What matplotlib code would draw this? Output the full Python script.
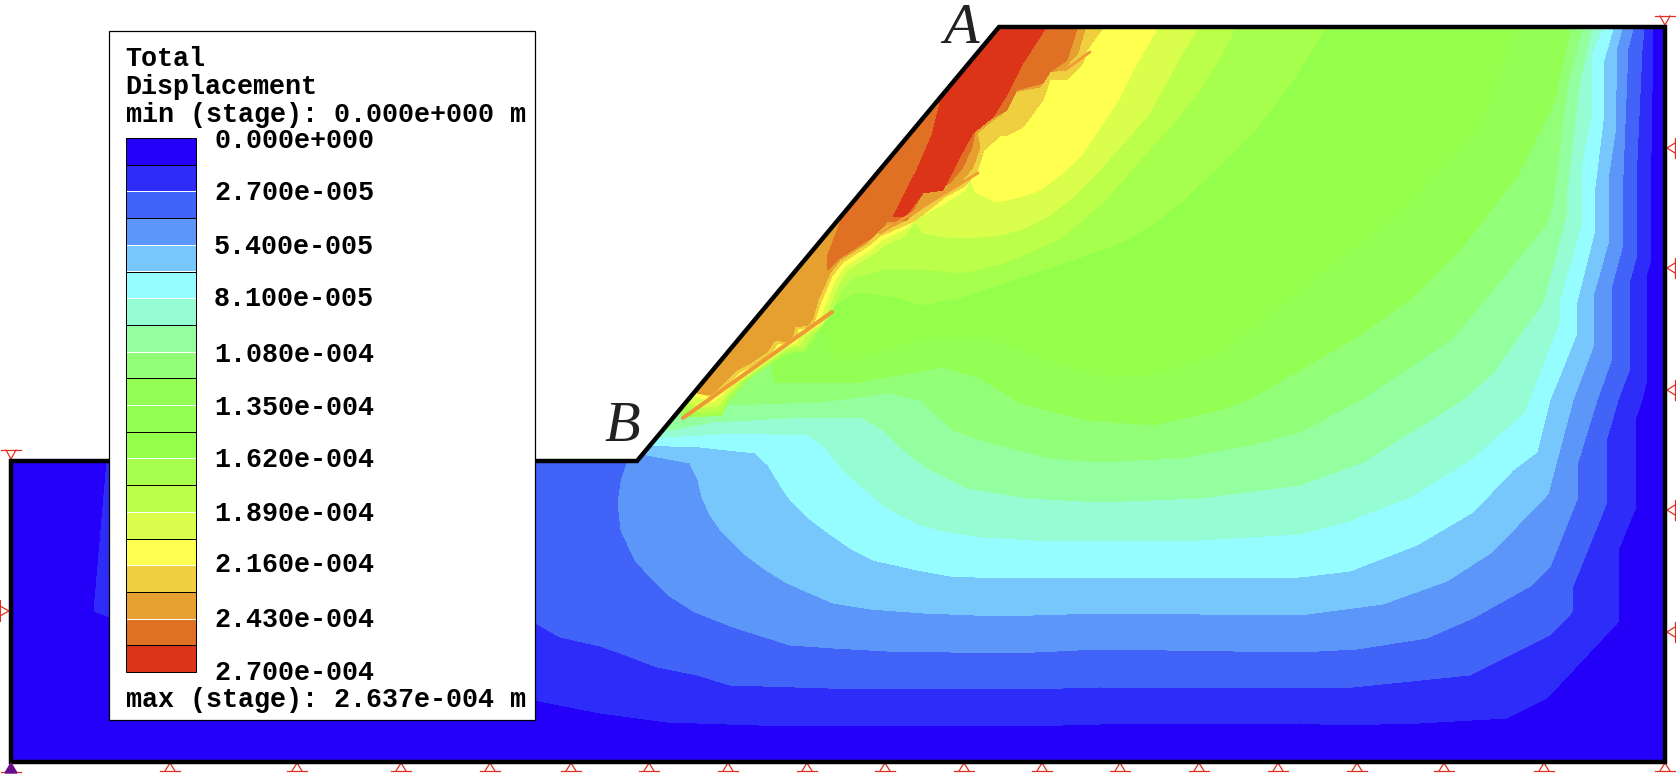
import matplotlib
matplotlib.use("Agg")
import matplotlib.pyplot as plt
from matplotlib.patches import Polygon, Rectangle

# model outline, picture pixels
outline_x = [11, 637, 999, 1665, 1665, 11]
outline_y = [461, 461, 27, 27, 762, 762]

# legend
legend_colors = ["#2400F8", "#2E2CF8", "#4263F8", "#5B96F8", "#78C7FC", "#95FDFF", "#95FCD4",
                 "#93FF9E", "#93FF78", "#93FF54", "#93FF50", "#93FF4C", "#A5FF4C", "#BBFF4A",
                 "#D9FF4C", "#FFFF50", "#EFCF40", "#E6A030", "#E07024", "#DC3418"]
legend_labels = ["0.000e+000", "2.700e-005", "5.400e-005", "8.100e-005", "1.080e-004", "1.350e-004",
                 "1.620e-004", "1.890e-004", "2.160e-004", "2.430e-004", "2.700e-004"]
legend_label_y = [141, 193, 247, 299, 355, 408, 460, 514, 565, 620, 673]
legend_head = ["Total", "Displacement", "min (stage): 0.000e+000 m"]
legend_head_y = [59, 87, 115]
legend_foot = "max (stage): 2.637e-004 m"

# contour edges, each one is where a colour starts
edge_02 = [(107, 450), (107, 461), (94, 611), (112, 618), (534, 700), (600, 713), (667, 722), (757, 725),
           (1027, 726), (1100, 724), (1300, 723), (1340, 725), (1420, 723), (1507, 718), (1547, 698),
           (1618, 622), (1619, 548), (1636, 507), (1636, 417), (1642, 400), (1647, 380), (1647, 273),
           (1650, 263), (1651, 153), (1653, 29), (1653, 20)]
edge_03 = [(300, 450), (300, 600), (534, 622), (560, 637), (600, 646), (620, 653), (657, 667), (697, 675),
           (730, 685), (860, 689), (1027, 689), (1100, 687), (1300, 688), (1353, 687), (1470, 675),
           (1550, 635), (1573, 611), (1573, 586), (1607, 502), (1607, 438), (1618, 400), (1630, 368),
           (1630, 280), (1637, 255), (1637, 160), (1642, 50), (1644, 29), (1644, 20)]
edge_04 = [(627, 450), (627, 463), (621, 482), (618, 503), (621, 530), (627, 543), (635, 560), (650, 577),
           (668, 595), (695, 612), (733, 627), (790, 645), (833, 648), (887, 651), (1013, 653), (1100, 649),
           (1300, 652), (1357, 649), (1427, 638), (1473, 618), (1532, 585), (1550, 567), (1578, 497),
           (1578, 462), (1597, 400), (1612, 358), (1612, 285), (1622, 248), (1623, 175), (1628, 48),
           (1633, 29), (1633, 20)]
edge_05 = [(635, 452), (647, 455), (690, 463), (698, 480), (702, 497), (710, 515), (722, 532), (743, 553),
           (763, 568), (787, 583), (833, 603), (870, 609), (923, 613), (1000, 616), (1100, 613), (1300, 615),
           (1383, 604), (1447, 581), (1492, 552), (1548, 494), (1573, 400), (1593, 347), (1594, 293),
           (1609, 240), (1609, 173), (1615, 133), (1617, 47), (1622, 29), (1622, 20)]
edge_06 = [(640, 445), (700, 447), (755, 453), (768, 465), (777, 480), (788, 497), (807, 517), (827, 532),
           (853, 550), (873, 560), (917, 570), (950, 576), (1000, 578), (1100, 578), (1300, 577), (1350, 571),
           (1417, 545), (1473, 512), (1513, 470), (1537, 452), (1550, 400), (1577, 333), (1577, 302),
           (1595, 230), (1595, 187), (1604, 113), (1604, 60), (1613, 29), (1613, 20)]
edge_07 = [(650, 438), (733, 433), (807, 435), (823, 445), (843, 470), (863, 488), (887, 508), (920, 525),
           (947, 532), (983, 537), (1033, 540), (1100, 541), (1200, 540), (1300, 534), (1343, 523),
           (1410, 497), (1470, 460), (1525, 412), (1529, 400), (1560, 320), (1559, 303), (1582, 222),
           (1582, 163), (1592, 110), (1592, 53), (1602, 29), (1602, 20)]
edge_08 = [(650, 432), (670, 430), (713, 422), (807, 417), (863, 418), (883, 430), (907, 453), (927, 468),
           (967, 488), (1027, 498), (1100, 502), (1200, 498), (1300, 485), (1363, 462), (1462, 400),
           (1493, 373), (1543, 302), (1567, 213), (1567, 190), (1580, 80), (1592, 29), (1592, 20)]
edge_09 = [(670, 405), (687, 400), (683, 413), (703, 408), (727, 405), (820, 402), (890, 393), (920, 400),
           (953, 430), (980, 440), (1050, 458), (1100, 462), (1180, 458), (1250, 445), (1300, 432),
           (1360, 400), (1453, 338), (1490, 293), (1547, 223), (1553, 203), (1567, 87), (1582, 29), (1582, 20)]
edge_10 = [(725, 350), (765, 360), (772, 367), (775, 383), (820, 383), (853, 383), (943, 367), (980, 378),
           (1020, 403), (1087, 420), (1153, 425), (1220, 410), (1247, 400), (1357, 337), (1413, 297),
           (1460, 250), (1518, 175), (1555, 100), (1570, 29), (1570, 20)]
edge_12 = [(760, 300), (820, 330), (833, 357), (853, 360), (920, 340), (987, 338), (1053, 362), (1103, 377),
           (1153, 375), (1220, 353), (1270, 315), (1313, 280), (1400, 213), (1480, 127), (1517, 29), (1517, 20)]
edge_13 = [(675, 412), (692, 417), (722, 415), (728, 402), (745, 382), (760, 371), (772, 362), (787, 354),
           (797, 352), (805, 351), (814, 338), (823, 322), (835, 305), (845, 298), (857, 292), (897, 297),
           (920, 305), (960, 298), (1007, 282), (1087, 255), (1127, 240), (1155, 222), (1180, 203),
           (1215, 170), (1253, 133), (1293, 80), (1325, 29), (1325, 20)]
edge_14 = [(680, 405), (700, 413), (722, 410), (726, 399), (742, 382), (757, 371), (770, 362), (785, 352),
           (795, 350), (803, 349), (812, 336), (820, 328), (828, 318), (832, 310), (842, 288), (853, 278),
           (887, 268), (930, 270), (963, 273), (1003, 263), (1030, 252), (1057, 240), (1080, 222), (1107, 198),
           (1140, 160), (1170, 127), (1200, 90), (1220, 57), (1235, 29), (1235, 20)]
edge_15 = [(685, 400), (700, 408), (718, 406), (724, 398), (742, 380), (757, 369), (770, 360), (780, 353),
           (790, 347), (800, 345), (805, 337), (814, 330), (822, 325), (828, 310), (838, 285), (848, 270),
           (872, 255), (885, 245), (905, 236), (915, 222), (923, 233), (945, 237), (970, 238), (1000, 235),
           (1020, 230), (1045, 218), (1070, 200), (1095, 175), (1120, 147), (1148, 115), (1165, 85),
           (1180, 57), (1197, 29), (1197, 20)]
edge_16 = [(685, 388), (698, 397), (714, 402), (720, 396), (740, 378), (755, 368), (770, 358), (778, 348),
           (790, 345), (797, 342), (800, 332), (810, 330), (818, 325), (825, 305), (835, 280), (845, 266),
           (870, 250), (882, 240), (905, 229), (917, 218), (945, 203), (965, 190), (970, 180), (977, 193),
           (997, 202), (1020, 197), (1040, 190), (1060, 175), (1080, 157), (1100, 128), (1120, 97),
           (1137, 63), (1157, 29), (1157, 20)]
edge_17 = [(685, 390), (695, 392), (712, 397), (720, 392), (740, 372), (755, 364), (770, 354), (778, 343),
           (790, 344), (797, 337), (798, 329), (810, 327), (815, 320), (821, 302), (832, 276), (843, 262),
           (868, 246), (880, 236), (903, 226), (916, 220), (945, 197), (965, 186), (977, 172), (984, 150),
           (1000, 136), (1008, 135), (1023, 127), (1043, 100), (1050, 80), (1067, 80), (1083, 63), (1087, 50),
           (1102, 29), (1102, 20)]
edge_18 = [(690, 388), (697, 393), (710, 395), (717, 390), (737, 370), (752, 362), (767, 352), (775, 340),
           (788, 342), (793, 335), (795, 327), (808, 325), (813, 318), (818, 300), (830, 273), (840, 260),
           (867, 243), (877, 233), (900, 223), (913, 215), (943, 193), (960, 183), (973, 167), (980, 147),
           (977, 133), (993, 120), (1003, 113), (1013, 92), (1040, 87), (1050, 72), (1063, 70), (1078, 53),
           (1085, 29), (1085, 20)]
edge_19 = [(835, 215), (842, 218), (827, 257), (828, 270), (840, 258), (863, 243), (873, 237), (887, 222),
           (907, 220), (923, 193), (950, 183), (963, 167), (972, 147), (975, 132), (983, 123), (1007, 110),
           (1017, 90), (1043, 83), (1050, 72), (1067, 60), (1077, 29), (1077, 20)]
edge_20 = [(930, 95), (940, 103), (932, 135), (917, 170), (893, 217), (905, 217), (923, 193), (943, 190),
           (962, 153), (973, 133), (993, 117), (1008, 93), (1023, 63), (1045, 29), (1045, 20)]

# legend_colors index -> edge
bands = [(1, edge_02), (2, edge_03), (3, edge_04), (4, edge_05), (5, edge_06), (6, edge_07), (7, edge_08),
         (8, edge_09), (9, edge_10), (11, edge_12), (12, edge_13), (13, edge_14), (14, edge_15),
         (15, edge_16), (16, edge_17), (17, edge_18), (18, edge_19), (19, edge_20)]

# small light patches inside the orange zone
sliver_1 = [(1012, 104), (1024, 94), (1022, 99), (1015, 104)]
sliver_2 = [(878, 232), (890, 224), (886, 230), (880, 234)]

# slip lines
fault_1 = [(683, 418), (832, 312)]
fault_2 = [(880, 233), (978, 173)]
fault_3 = [(1065, 70), (1090, 52)]

# red supports
support_bottom_x = [170, 297, 401, 490, 571, 649, 728, 807, 885, 964, 1042, 1120, 1199, 1278, 1357, 1444, 1544, 1665]
support_right_y = [148, 268, 390, 510, 632]
support_left_y = [611]
support_top_x = [11, 1665]

RED = "#E03020"
MONO = "Liberation Mono"

fig = plt.figure(figsize=(16.76, 7.74), dpi=100)
ax = fig.add_axes([0, 0, 1, 1])
ax.set_xlim(0, 1676)
ax.set_ylim(774, 0)
ax.axis("off")

domain = Polygon(list(zip(outline_x, outline_y)), closed=True, facecolor=legend_colors[0], edgecolor="none")
ax.add_patch(domain)

for idx, edge in bands:
    pts = edge + [(600, 10)]
    p = Polygon(pts, closed=True, facecolor=legend_colors[idx], edgecolor="none", antialiased=False)
    ax.add_patch(p)
    p.set_clip_path(domain)

for sliver in [sliver_1, sliver_2]:
    ax.add_patch(Polygon(sliver, closed=True, facecolor="#EFCF40", edgecolor="none", zorder=2))

for fault in [fault_1, fault_2, fault_3]:
    xs, ys = zip(*fault)
    w = 2.9 if fault is fault_1 else 2.0
    ax.plot(xs, ys, color="#EE9A35", lw=w, solid_capstyle="round", zorder=3)

ax.add_patch(Polygon(list(zip(outline_x, outline_y)), closed=True, fill=False, edgecolor="black",
                     lw=3.2, joinstyle="miter", zorder=4))

# supports
for x in support_bottom_x:
    ax.plot([x - 10, x + 10], [771, 771], color=RED, lw=0.9)
    ax.plot([x - 5, x, x + 5], [771, 763, 771], color=RED, lw=0.9)
for x in support_top_x:
    top = 450 if x < 100 else 16
    ax.plot([x - 10, x + 10], [top, top], color=RED, lw=0.9)
    ax.plot([x - 5, x, x + 5], [top, top + 9, top], color=RED, lw=0.9)
for y in support_right_y:
    ax.plot([1675, 1675], [y - 10, y + 10], color=RED, lw=0.9)
    ax.plot([1675, 1667, 1675], [y - 5, y, y + 5], color=RED, lw=0.9)
for y in support_left_y:
    ax.plot([0, 0], [y - 10, y + 10], color=RED, lw=1.5)
    ax.plot([0, 9, 0], [y - 5, y, y + 5], color=RED, lw=0.9)

# pinned corner
ax.add_patch(Polygon([(5, 773), (11, 763), (17, 773)], closed=True, facecolor="#6A0D8A", edgecolor="#6A0D8A", zorder=5))
ax.plot([1, 21], [772, 772], color=RED, lw=0.9, zorder=4)

# legend box
ax.add_patch(Rectangle((109, 31), 426, 689, facecolor="white", edgecolor="black", lw=0.9, zorder=6))
for txt, y in zip(legend_head, legend_head_y):
    ax.text(125.5, y, txt, family=MONO, weight="bold", fontsize=19.3, va="center", ha="left", zorder=7)
ax.text(125.5, 700, legend_foot, family=MONO, weight="bold", fontsize=19.3, va="center", ha="left", zorder=7)

bar_x, bar_w = 126, 70
bar_top, bar_bottom = 138, 672
cell_h = (bar_bottom - bar_top) / len(legend_colors)
for i, c in enumerate(legend_colors):
    ax.add_patch(Rectangle((bar_x, bar_top + i * cell_h), bar_w, cell_h, facecolor=c, edgecolor="none", zorder=7))
for i in range(1, len(legend_colors)):
    y = bar_top + i * cell_h
    ax.plot([bar_x, bar_x + bar_w], [y, y], color="black" if i % 2 == 1 else "white", lw=0.72, zorder=8)
ax.add_patch(Rectangle((bar_x, bar_top), bar_w, bar_bottom - bar_top, fill=False, edgecolor="black", lw=0.72, zorder=9))

for lab, y in zip(legend_labels, legend_label_y):
    ax.text(214, y, lab, family=MONO, weight="bold", fontsize=19.3, va="center", ha="left", zorder=7)

# point labels
ax.text(943, 43, "A", family="Liberation Serif", style="italic", fontsize=42, color="#222222", va="baseline", ha="left", zorder=5)
ax.text(604, 441, "B", family="Liberation Serif", style="italic", fontsize=42, color="#222222", va="baseline", ha="left", zorder=5)

fig.savefig("out.png", dpi=100)
